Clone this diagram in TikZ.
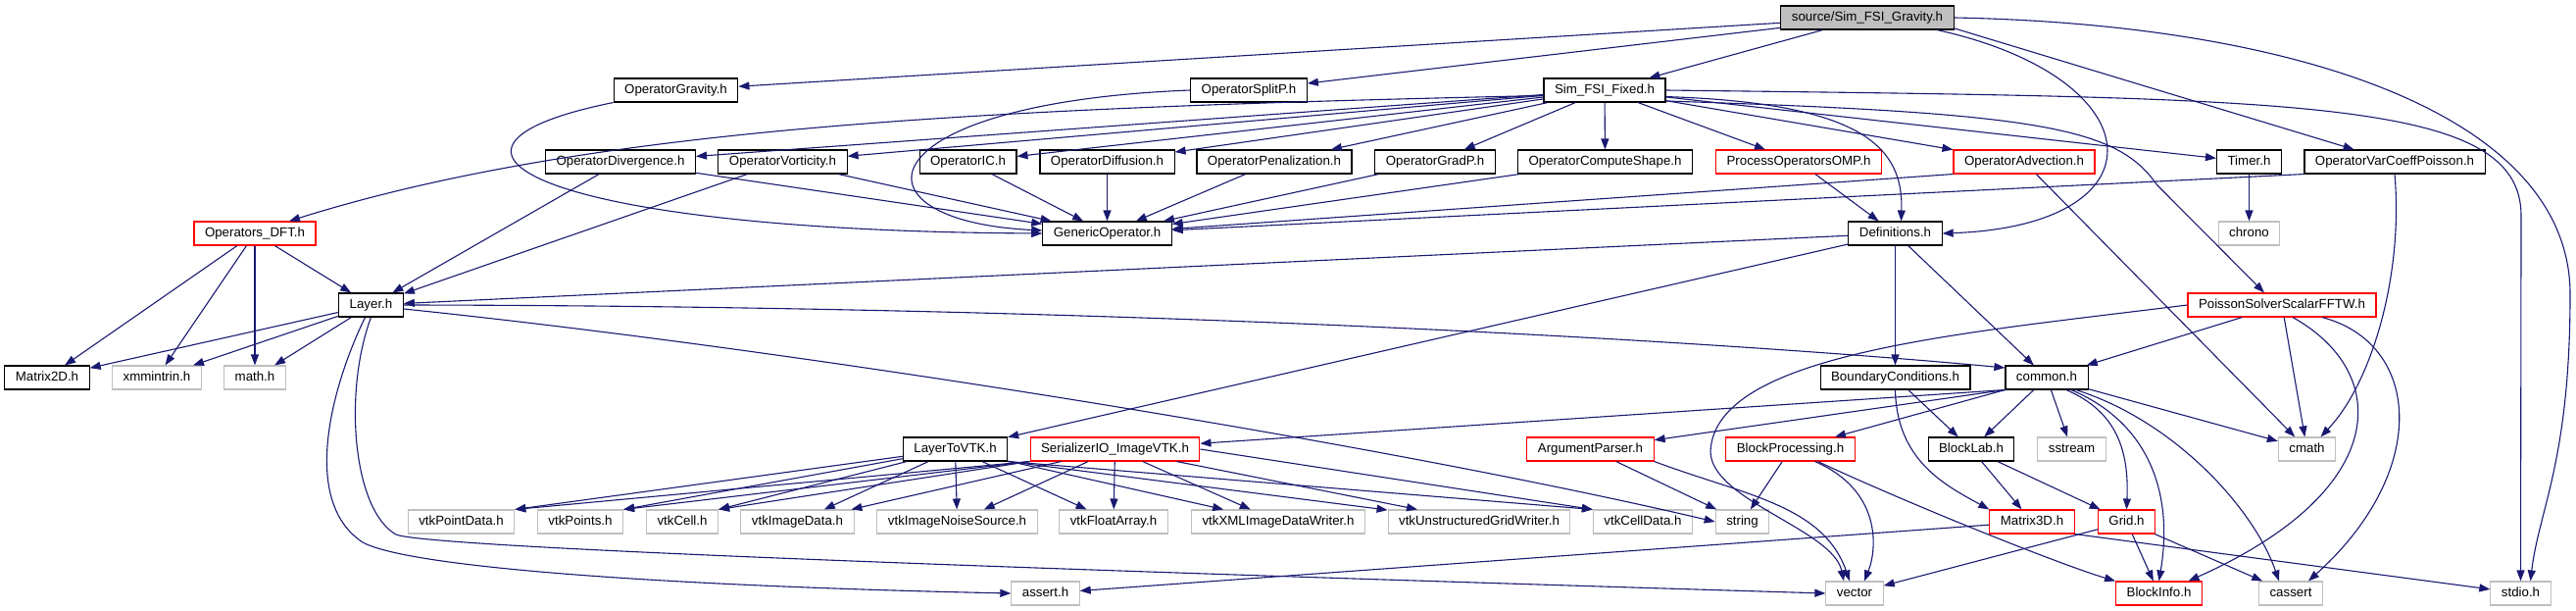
\documentclass[tikz,border=0pt]{standalone}
\usepackage{fontspec}
\setmainfont{Liberation Sans}
\usepackage{xcolor}
\usepackage{tikz}
\usetikzlibrary{arrows.meta}
\definecolor{edgeblue}{HTML}{191970}
\definecolor{grey75}{HTML}{BFBFBF}

\begin{document}
\begin{tikzpicture}[
  x=1pt, y=-1pt,
  box/.style={draw, rectangle, line width=1.1pt, inner xsep=11pt, inner ysep=0pt, minimum height=24pt, text height=9.6pt, text depth=2.6pt, font=\fontsize{13.3}{16}\selectfont},
  hdr/.style={box, draw=black, fill=white},
  trunc/.style={box, draw=red, fill=white},
  sys/.style={box, draw=grey75, fill=white},
  root/.style={box, draw=black, fill=grey75},
  dep/.style={draw=edgeblue, line width=1.1pt, -{Triangle[length=11pt, width=8pt]}}
]
\useasboundingbox (0,0) rectangle (2628,623);
\node[root] (src) at (1905,18) {source/Sim\_FSI\_Gravity.h};
\node[hdr] (grav) at (689.5,92) {OperatorGravity.h};
\node[hdr] (splitp) at (1274,92) {OperatorSplitP.h};
\node[hdr] (fix) at (1637,92) {Sim\_FSI\_Fixed.h};
\node[hdr] (div) at (633,165) {OperatorDivergence.h};
\node[hdr] (vort) at (798.5,165) {OperatorVorticity.h};
\node[hdr] (ic) at (987.5,165) {OperatorIC.h};
\node[hdr] (diff) at (1129.5,165) {OperatorDiffusion.h};
\node[hdr] (pen) at (1300,165) {OperatorPenalization.h};
\node[hdr] (gradp) at (1464,165) {OperatorGradP.h};
\node[hdr] (shape) at (1637.5,165) {OperatorComputeShape.h};
\node[trunc] (omp) at (1835,165) {ProcessOperatorsOMP.h};
\node[trunc] (adv) at (2065,165) {OperatorAdvection.h};
\node[hdr] (timer) at (2294.5,165) {Timer.h};
\node[hdr] (vcp) at (2443,165) {OperatorVarCoeffPoisson.h};
\node[trunc] (dft) at (260,238) {Operators\_DFT.h};
\node[hdr] (genop) at (1129.5,238) {GenericOperator.h};
\node[hdr] (defs) at (1933.5,238) {Definitions.h};
\node[sys] (chrono) at (2294.5,238) {chrono};
\node[hdr] (layer) at (378.5,311) {Layer.h};
\node[trunc] (pssf) at (2328,311) {PoissonSolverScalarFFTW.h};
\node[hdr] (m2d) at (48,385) {Matrix2D.h};
\node[sys] (xmm) at (160,385) {xmmintrin.h};
\node[sys] (math) at (260,385) {math.h};
\node[hdr] (bc) at (1933.5,385) {BoundaryConditions.h};
\node[hdr] (common) at (2088,385) {common.h};
\node[hdr] (ltv) at (974.5,458) {LayerToVTK.h};
\node[trunc] (sio) at (1137.5,458) {SerializerIO\_ImageVTK.h};
\node[trunc] (argp) at (1622.5,458) {ArgumentParser.h};
\node[trunc] (bproc) at (1826.5,458) {BlockProcessing.h};
\node[hdr] (blab) at (2011,458) {BlockLab.h};
\node[sys] (sstream) at (2113.5,458) {sstream};
\node[sys] (cmath) at (2353.5,458) {cmath};
\node[sys] (vpd) at (470.5,532) {vtkPointData.h};
\node[sys] (vpts) at (592,532) {vtkPoints.h};
\node[sys] (vcell) at (696,532) {vtkCell.h};
\node[sys] (vimg) at (813.5,532) {vtkImageData.h};
\node[sys] (vnoise) at (976.5,532) {vtkImageNoiseSource.h};
\node[sys] (vfloat) at (1136,532) {vtkFloatArray.h};
\node[sys] (vxml) at (1304,532) {vtkXMLImageDataWriter.h};
\node[sys] (vugw) at (1509,532) {vtkUnstructuredGridWriter.h};
\node[sys] (vcd) at (1676,532) {vtkCellData.h};
\node[sys] (string) at (1777.5,532) {string};
\node[trunc] (m3d) at (2073,532) {Matrix3D.h};
\node[trunc] (grid) at (2169.5,532) {Grid.h};
\node[sys] (assert) at (1066.5,605) {assert.h};
\node[sys] (vector) at (1892,605) {vector};
\node[trunc] (binfo) at (2202.5,605) {BlockInfo.h};
\node[sys] (cassert) at (2337,605) {cassert};
\node[sys] (stdio) at (2571.5,605) {stdio.h};
\draw[dep] (src) -- (grav);
\draw[dep] (src) -- (splitp);
\draw[dep] (src) -- (fix);
\draw[dep] (src.-7) -- (vcp);
\draw[dep] (src.-10) .. controls (2200,80) and (2210,230) .. (defs.east);
\draw[dep] (src.east) .. controls (2350,25) and (2622,120) .. (2622,300) .. controls (2622,470) and (2590,520) .. ([xshift=10pt]stdio.north);
\draw[dep] (fix.185) .. controls (1000,110) and (600,130) .. ([xshift=35pt]dft.north);
\draw[dep] (fix) -- (div);
\draw[dep] (fix) -- (vort);
\draw[dep] (fix) -- (ic);
\draw[dep] (fix) -- (diff);
\draw[dep] (fix) -- (pen);
\draw[dep] (fix) -- (gradp);
\draw[dep] (fix) -- (shape);
\draw[dep] (fix) -- (omp);
\draw[dep] (fix) -- (adv);
\draw[dep] (fix) -- (timer);
\draw[dep] (fix.-6) .. controls (1900,105) and (1942,150) .. ([xshift=6pt]defs.north);
\draw[dep] (fix.-10) .. controls (2080,115) and (2160,130) .. (2200,188) -- ([xshift=-18pt]pssf.north);
\draw[dep] (fix.east) .. controls (2350,100) and (2572,100) .. (2572,220) -- (stdio.north);
\draw[dep] (grav.south west) .. controls (400,150) and (540,235) .. (genop.west);
\draw[dep] (splitp.west) .. controls (880,105) and (860,225) .. ([yshift=3pt]genop.west);
\draw[dep] (div) -- (layer);
\draw[dep] (div) -- (genop);
\draw[dep] (vort) -- (layer);
\draw[dep] (vort) -- (genop);
\draw[dep] (ic) -- (genop);
\draw[dep] (diff) -- (genop);
\draw[dep] (pen) -- (genop);
\draw[dep] (gradp) -- (genop);
\draw[dep] (shape) -- (genop);
\draw[dep] (adv.south west) -- (genop);
\draw[dep] (vcp.south west) -- (genop);
\draw[dep] (adv) -- (cmath);
\draw[dep] (vcp.south) .. controls (2452,280) and (2420,390) .. ([xshift=14pt]cmath.north);
\draw[dep] (omp) -- (defs);
\draw[dep] (timer) -- (chrono);
\draw[dep] (defs) -- (layer);
\draw[dep] (defs) -- (ltv);
\draw[dep] (defs) -- (bc);
\draw[dep] (defs) -- (common);
\draw[dep] (dft) -- (layer);
\draw[dep] (dft) -- (m2d);
\draw[dep] (dft) -- (xmm);
\draw[dep] (dft) -- (math);
\draw[dep] (layer) -- (m2d);
\draw[dep] (layer) -- (xmm);
\draw[dep] (layer) -- (math);
\draw[dep] (layer.east) .. controls (1200,312) and (1800,352) .. ([yshift=10pt]common.west);
\draw[dep] ([yshift=-4pt]layer.east) .. controls (800,355) and (1400,450) .. (string.west);
\draw[dep] (layer.south) .. controls (350,400) and (360,520) .. (404,545) .. controls (440,560) and (1200,585) .. (vector.west);
\draw[dep] ([xshift=-6pt]layer.south) .. controls (340,390) and (305,510) .. (370,553) .. controls (420,580) and (700,598) .. (assert.west);
\draw[dep] (pssf) -- (common);
\draw[dep] (pssf) -- (cmath);
\draw[dep] ([xshift=11pt]pssf.south) .. controls (2440,380) and (2440,500) .. ([xshift=30pt]binfo.north);
\draw[dep] ([xshift=41pt]pssf.south) .. controls (2470,350) and (2480,480) .. ([xshift=18pt]cassert.north);
\draw[dep] (pssf.west) .. controls (2000,340) and (1750,360) .. (1745,460) .. controls (1745,510) and (1870,540) .. ([xshift=-11pt]vector.north);
\draw[dep] (common.south west) -- (sio);
\draw[dep] (common.south west) -- (argp);
\draw[dep] (common.south west) -- (bproc);
\draw[dep] (common) -- (blab);
\draw[dep] (common) -- (sstream);
\draw[dep] (common) -- (cmath);
\draw[dep] ([xshift=20pt]common.south) .. controls (2160,420) and (2172,460) .. (grid.north);
\draw[dep] ([xshift=25pt]common.south) .. controls (2190,430) and (2218,500) .. (binfo.north);
\draw[dep] ([xshift=30pt]common.south) .. controls (2220,430) and (2300,520) .. ([xshift=-12pt]cassert.north);
\draw[dep] (bc) -- (blab);
\draw[dep] (bc.south) .. controls (1935,470) and (1985,495) .. (m3d.north west);
\draw[dep] (blab) -- (m3d);
\draw[dep] (blab) -- (grid);
\draw[dep] (ltv) -- (vpd.north east);
\draw[dep] (ltv) -- (vpts.north east);
\draw[dep] (ltv) -- (vcell.north east);
\draw[dep] (ltv) -- (vimg);
\draw[dep] (ltv) -- (vnoise);
\draw[dep] (ltv) -- (vfloat);
\draw[dep] (ltv) -- (vxml);
\draw[dep] (ltv.south east) -- (vugw);
\draw[dep] (ltv.south east) -- (vcd.north west);
\draw[dep] (sio.south west) -- (vpd.north east);
\draw[dep] (sio.south west) -- (vpts.north east);
\draw[dep] (sio.south west) -- (vcell.north east);
\draw[dep] (sio) -- (vimg);
\draw[dep] (sio) -- (vnoise);
\draw[dep] (sio) -- (vfloat);
\draw[dep] (sio) -- (vxml);
\draw[dep] (sio) -- (vugw);
\draw[dep] (sio.east) -- (vcd.north west);
\draw[dep] (argp) -- (string);
\draw[dep] (argp.south east) .. controls (1780,505) and (1860,515) .. ([xshift=-5pt]vector.north);
\draw[dep] (bproc) -- (string);
\draw[dep] ([xshift=25pt]bproc.south) .. controls (1920,500) and (1915,560) .. ([xshift=10pt]vector.north);
\draw[dep] ([xshift=28pt]bproc.south) .. controls (1950,515) and (2100,575) .. (binfo.north west);
\draw[dep] (grid) -- (binfo);
\draw[dep] (grid) -- (cassert);
\draw[dep] (grid) -- (vector);
\draw[dep] (m3d) -- (assert);
\draw[dep] (m3d.south east) -- (stdio);
\end{tikzpicture}
\end{document}
